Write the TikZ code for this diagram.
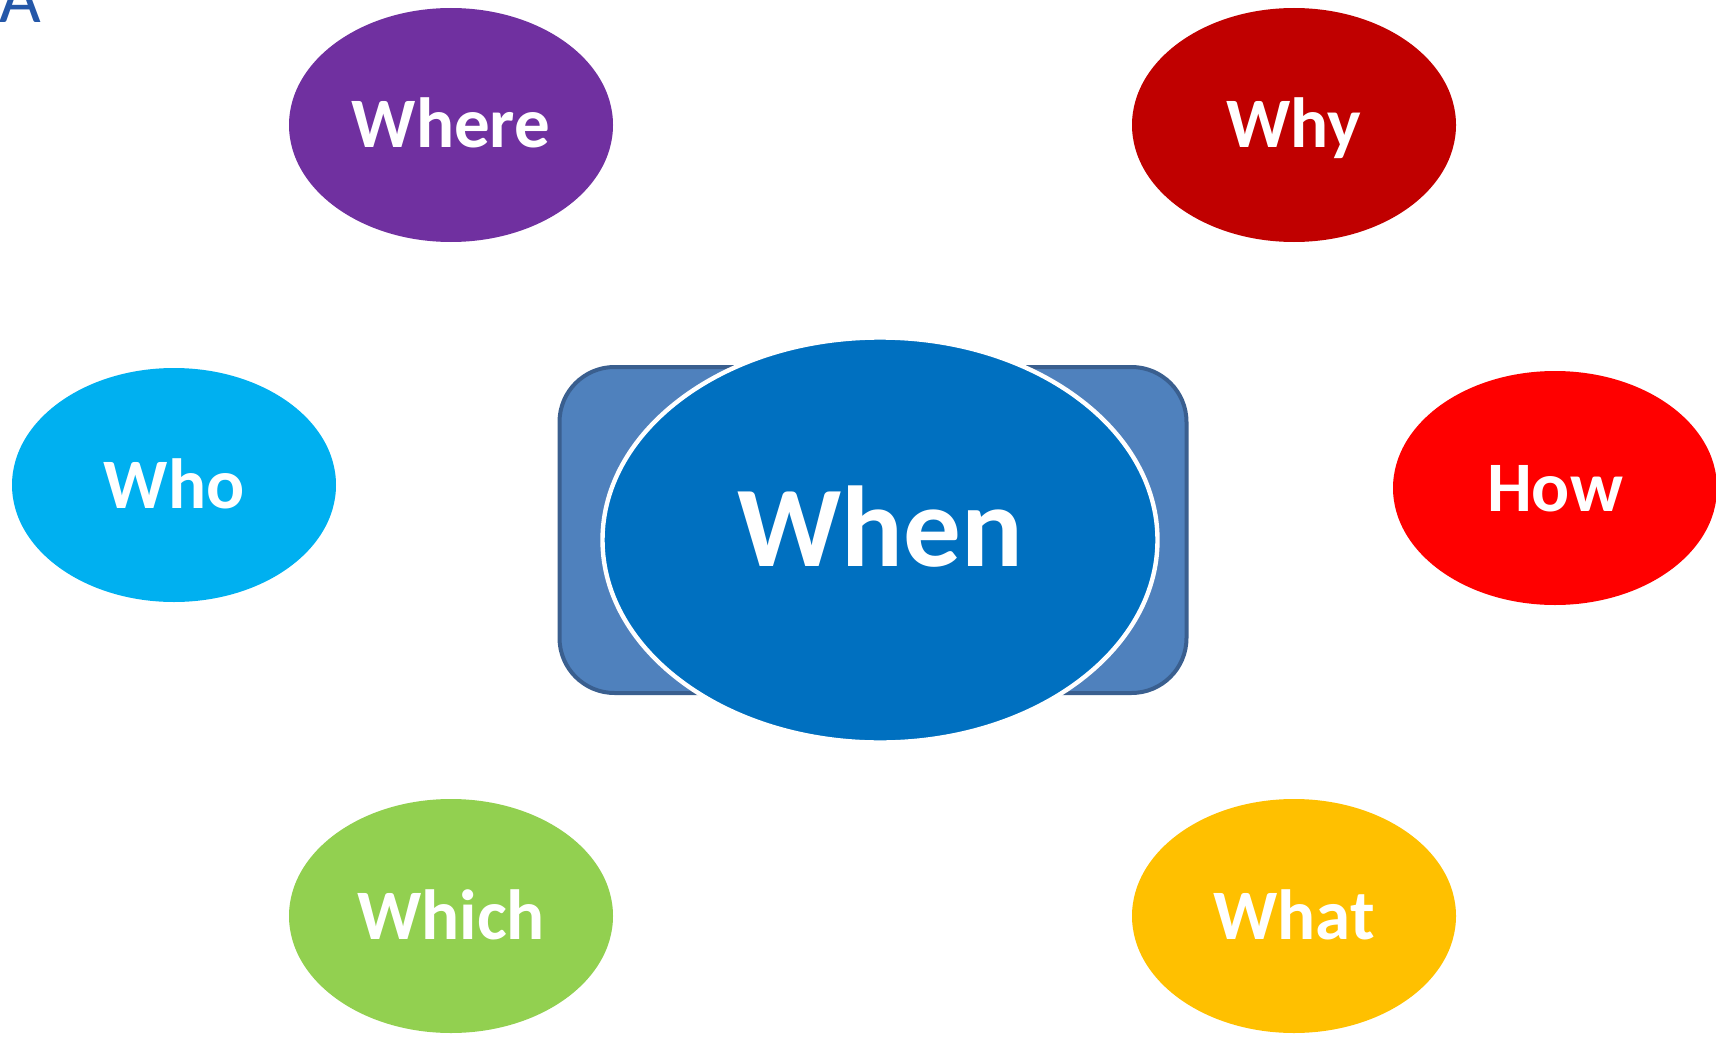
\documentclass[tikz,border=0pt]{standalone}
\usepackage{fontspec}
\setmainfont{Carlito}
\usetikzlibrary{shapes.geometric}
\definecolor{wherec}{HTML}{7030A0}
\definecolor{whyc}{HTML}{C00000}
\definecolor{whoc}{HTML}{00B0F0}
\definecolor{howc}{HTML}{FF0000}
\definecolor{whichc}{HTML}{92D050}
\definecolor{whatc}{HTML}{FFC000}
\definecolor{whenc}{HTML}{0070C0}
\definecolor{boxfill}{HTML}{4F81BD}
\definecolor{boxline}{HTML}{3A5F8F}
\definecolor{letterc}{HTML}{2457A8}
\begin{document}
\begin{tikzpicture}[x=1pt,y=-1pt,
  bubble/.style={ellipse, inner sep=0pt, minimum width=324pt, minimum height=234pt,
    text=white, font=\fontsize{71}{80}\selectfont\bfseries, text height=46pt, text depth=0pt}]
  \useasboundingbox (0,0) rectangle (1716,1038);
  \node[anchor=base west, inner sep=0pt, text=letterc, font=\fontsize{72}{80}\selectfont] (corner) at (-1,23) {A};
  \node[bubble, fill=wherec] (where) at (451,125) {Where};
  \node[bubble, fill=whyc] (why) at (1294,125) {Why};
  \node[bubble, fill=whoc] (who) at (174,485) {Who};
  \node[bubble, fill=howc] (how) at (1555,488) {How};
  \node[bubble, fill=whichc] (which) at (451,916) {Which};
  \node[bubble, fill=whatc] (what) at (1294,916) {What};
  \node[draw=boxline, line width=4pt, fill=boxfill, rounded corners=55pt,
    minimum width=627pt, minimum height=326pt] (back) at (873,530) {};
  \node[ellipse, draw=white, line width=4.4pt, fill=whenc, inner sep=0pt,
    minimum width=555pt, minimum height=405pt, text=white,
    font=\fontsize{115}{120}\selectfont\bfseries, text height=73pt, text depth=20pt] (when) at (880,540) {When};
\end{tikzpicture}
\end{document}
